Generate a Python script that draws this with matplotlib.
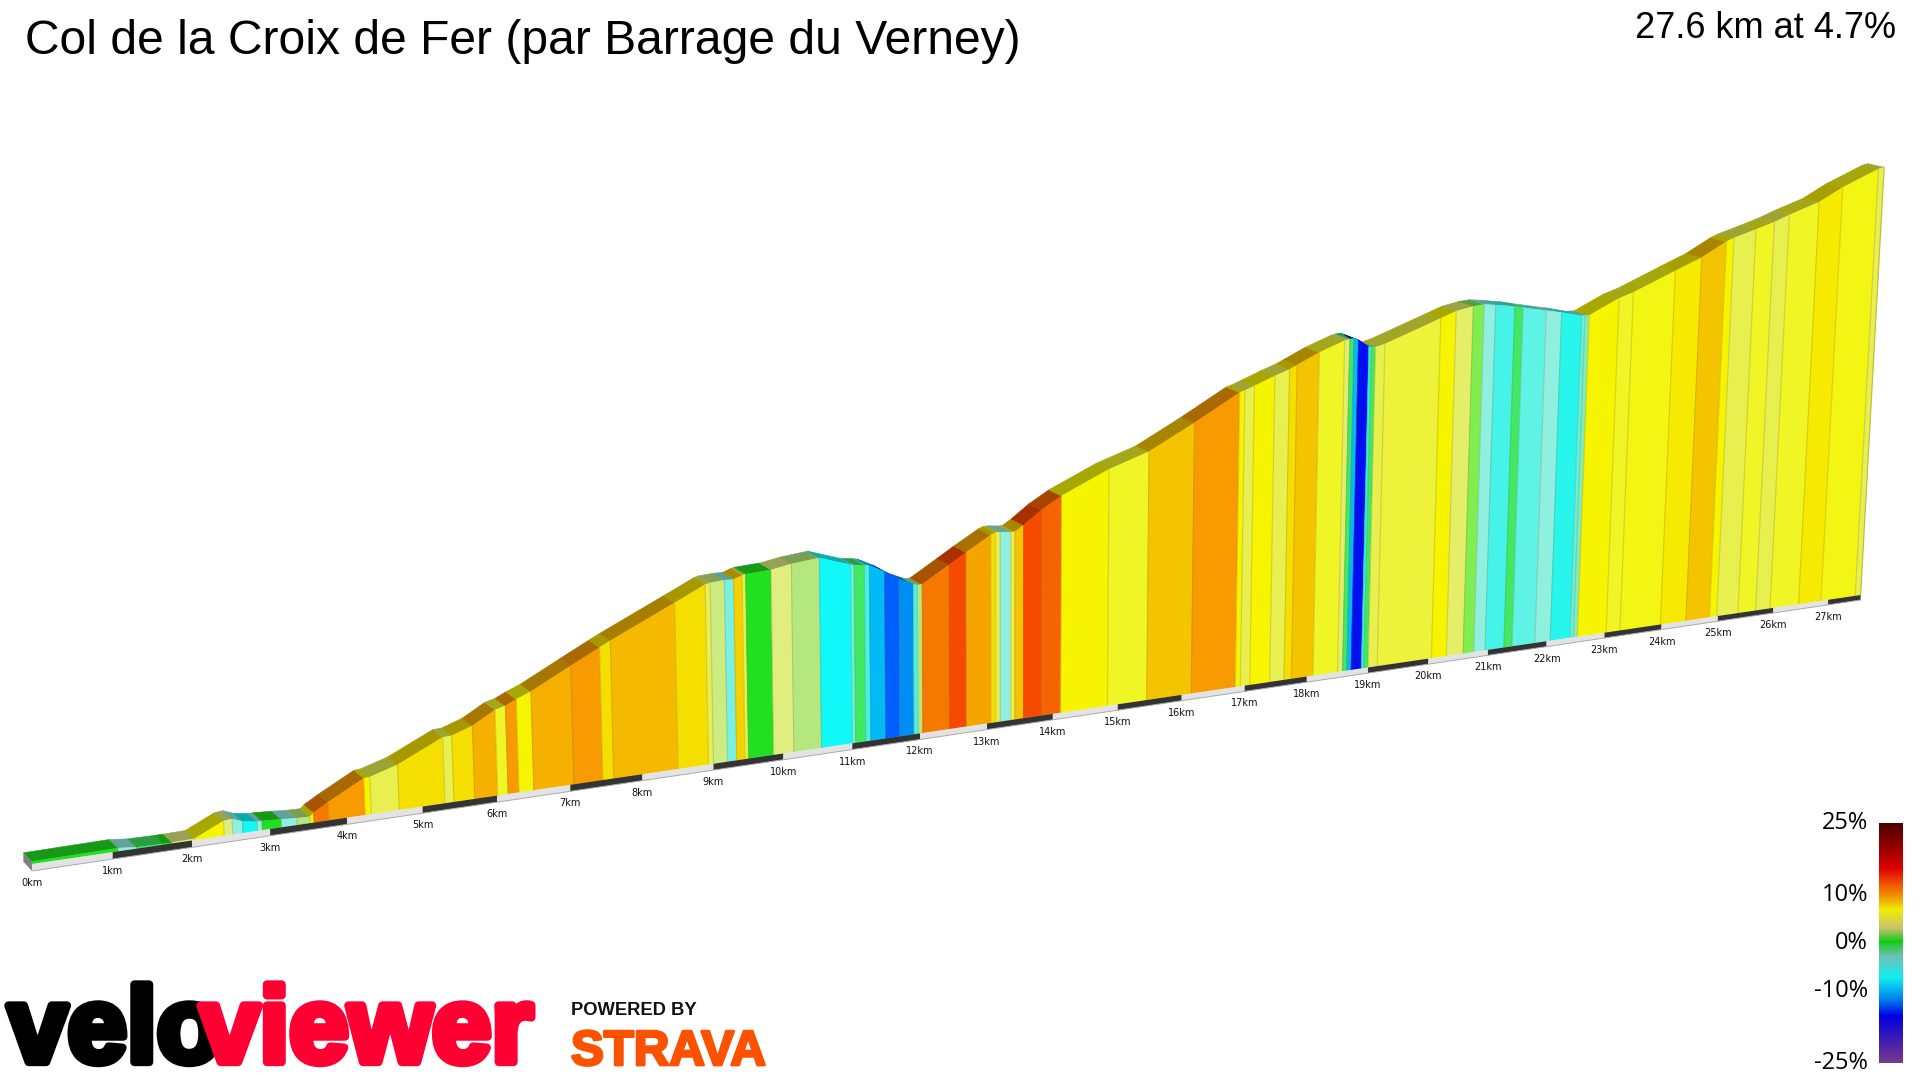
import numpy as np
import matplotlib
matplotlib.use("Agg")
import matplotlib.pyplot as plt
import matplotlib.patheffects as pe
from matplotlib.collections import PolyCollection
from matplotlib.colors import LinearSegmentedColormap, Normalize
from matplotlib.transforms import ScaledTranslation

TITLE = "Col de la Croix de Fer (par Barrage du Verney)"
SUMMARY = "27.6 km at 4.7%"
TOTAL_KM = 27.6

# Profile: distance at the end of each section (km), elevation gain there (m), gradient class (%)
START_ELEVATION = 6
section_end_km = [
    1.07, 1.30, 1.63, 1.75, 2.03, 2.41, 2.52, 2.65, 2.84, 2.90, 3.15, 3.35, 3.52, 3.57, 3.76,
    4.24, 4.32, 4.69, 5.30, 5.42, 5.70, 6.01, 6.15, 6.30, 6.50, 7.05, 7.45, 7.60, 8.50, 8.93,
    9.00, 9.20, 9.33, 9.45, 9.50, 9.86, 10.15, 10.55, 11.00, 11.05, 11.20, 11.27, 11.49, 11.70,
    11.91, 11.97, 12.04, 12.44, 12.69, 13.06, 13.13, 13.20, 13.36, 13.42, 13.55, 13.82, 14.12,
    14.84, 15.45, 16.15, 16.85, 16.93, 17.08, 17.40, 17.63, 17.75, 18.10, 18.50, 18.58, 18.65,
    18.72, 18.89, 18.93, 19.00, 19.15, 20.05, 20.30, 20.58, 20.76, 20.95, 21.27, 21.41, 21.80,
    22.06, 22.40, 22.46, 22.53, 23.03, 23.27, 23.98, 24.43, 24.85, 24.98, 25.36, 25.68, 25.94,
    26.46, 26.87, 27.50, 27.60,
]
section_elevation = [
    8, 3, 2, 2, 3, 37, 39, 29, 23, 23, 20, 17, 16, 25, 46,
    94, 95, 116, 170, 171, 189, 222, 229, 242, 257, 310, 348, 362, 440, 478,
    481, 483, 482, 490, 492, 495, 504, 511, 482, 480, 476, 473, 452, 426,
    408, 404, 404, 448, 476, 515, 520, 520, 516, 516, 531, 567, 599,
    657, 693, 759, 830, 834, 844, 866, 880, 890, 919, 945, 948, 949,
    943, 921, 919, 917, 923, 980, 996, 1005, 1007, 1002, 992, 986, 970,
    960, 944, 944, 943, 984, 997, 1048, 1080, 1120, 1129, 1148, 1165, 1182,
    1212, 1250, 1296, 1300,
]
section_gradient = [
    0, -4, -2, 0, 3, 6, 3, -4, -8, -4, 0, -4, 2, 6, 11,
    10, 6, 4, 7, 4, 7, 9, 5, 10, 6, 9, 10, 7, 8.5, 7,
    4, 2.5, -4.5, 7.5, 4, 0, 3, 2, -8, -5, -2, -6, -11, -13,
    -12, -6, 2, 11, 13, 9.5, 7, 4, -4, 4, 8, 13, 12,
    6, 5, 8, 10, 6, 4, 6, 4, 7, 8, 5, 3.5, -2,
    -11, -15, -7, -2, 4, 4.5, 6, 3.5, 1, -4, -6, -2, -5,
    -4, -7, -5, -3, 6, 5, 5.5, 6.5, 8, 6, 4, 5, 4,
    5, 6.5, 5.5, 4,
]

# Colour of the section faces by gradient
face_gradients = [-15, -13, -12, -11, -8, -7, -6, -5, -4, -3, -2, -1, 0, 1, 2, 3, 4, 5, 6, 7, 8, 9, 10, 11, 12, 13]
face_colours = ["#0010f0", "#0060ff", "#0090f5", "#00bbf5", "#10f8f8", "#28f5ec", "#45f3e8", "#60f3e5",
                "#90f0e0", "#80eebb", "#40e860", "#30e830", "#20e020", "#80ee50", "#b5e880", "#e0ee80",
                "#e8f050", "#f0f525", "#f7f500", "#f5e000", "#f5c400", "#f5b000", "#f79c00", "#f57a00",
                "#f56400", "#f54a00"]

# Legend scale
legend_values = [25, 15.6, 12.5, 10, 7, 3.1, 0.35, -2.8, -7.3, -11.8, -15.3, -25]
legend_colours = ["#4a0000", "#dd0000", "#f05000", "#f09000", "#eeee00", "#c8c070", "#10cc10",
                  "#70c0b8", "#10f0f0", "#0080f0", "#0000e0", "#7a3a8a"]
legend_ticks = [25, 10, 0, -10, -25]
legend_labels = ["25%", "10%", "0%", "-10%", "-25%"]

km_marks = list(range(0, 28))


def ramp(values, colours):
    vmin, vmax = min(values), max(values)
    pairs = sorted(zip(values, colours))
    return LinearSegmentedColormap.from_list(
        "ramp", [((v - vmin) / (vmax - vmin), c) for v, c in pairs], N=512
    ), Normalize(vmin, vmax)


# Oblique perspective used by the 3D profile, in figure pixels
def base_x(km):
    return 32 + 81.34 * np.asarray(km, float) / (1 + 0.00825 * np.asarray(km, float))


def base_y(km):
    return 864 - 0.1471 * (base_x(km) - 32)


def lift(elevation, km):
    return np.asarray(elevation, float) * 0.404 / (1 + 0.00825 * np.asarray(km, float))


def front(km, elevation):
    h = lift(elevation, km)
    bx = base_x(km)
    return bx + 6.4e-5 * (bx - 1000) * h, base_y(km) - h


def rear(km, elevation):
    x, y = front(km, elevation)
    km = np.asarray(km, float)
    return x - (8.5 + 0.3 * km), y - (8.8 - 0.19 * km)


fig = plt.figure(figsize=(19.2, 10.8), dpi=100, facecolor="white")
ax = fig.add_axes([0, 0, 1, 1])
ax.set_xlim(0, 1920)
ax.set_ylim(1080, 0)
ax.axis("off")

starts_km = np.array([0.0] + section_end_km[:-1])
ends_km = np.array(section_end_km)
starts_el = np.array([START_ELEVATION] + section_elevation[:-1], float)
ends_el = np.array(section_elevation, float)

cmap, norm = ramp(face_gradients, face_colours)
colours = np.array([cmap(norm(g))[:3] for g in section_gradient])

fx0, fy0 = front(starts_km, starts_el)
fx1, fy1 = front(ends_km, ends_el)
rx0, ry0 = rear(starts_km, starts_el)
rx1, ry1 = rear(ends_km, ends_el)
bx0, by0 = base_x(starts_km), base_y(starts_km)
bx1, by1 = base_x(ends_km), base_y(ends_km)

# Road surface running along the top of the profile
road = [[(a, b), (c, d), (e, f), (g, h)] for a, b, c, d, e, f, g, h in
        zip(fx0, fy0, fx1, fy1, rx1, ry1, rx0, ry0)]
ax.add_collection(PolyCollection(road, facecolors=colours * 0.68, edgecolors=colours * 0.68,
                                 linewidths=0.4, zorder=2))

# Front walls
walls = [[(a, b), (c, d), (e, f), (g, h)] for a, b, c, d, e, f, g, h in
         zip(bx0, by0, bx1, by1, fx1, fy1, fx0, fy0)]
ax.add_collection(PolyCollection(walls, facecolors=colours, edgecolors=colours,
                                 linewidths=0.4, zorder=3))
for a, b, c, d in zip(bx1[:-1], by1[:-1], fx1[:-1], fy1[:-1]):
    ax.plot([a, c], [b, d], color="#806020", alpha=0.22, lw=0.9, zorder=4, solid_capstyle="butt")
ax.plot([bx1[-1], fx1[-1]], [by1[-1], fy1[-1]], color="#a0a020", alpha=0.6, lw=0.9, zorder=4)

# Kilometre strip along the foot of the profile
strip_edges = np.array(km_marks + [TOTAL_KM], float)
thickness = 7 - 2 * strip_edges / TOTAL_KM
strip = [[(base_x(a), base_y(a)), (base_x(b), base_y(b)),
          (base_x(b), base_y(b) + tb), (base_x(a), base_y(a) + ta)]
         for a, b, ta, tb in zip(strip_edges[:-1], strip_edges[1:], thickness[:-1], thickness[1:])]
strip_colours = ["#333333" if k % 2 else "#e3e3e3" for k in km_marks]
ax.add_collection(PolyCollection(strip, facecolors=strip_colours, edgecolors="none", zorder=3))
ax.plot(base_x(strip_edges), base_y(strip_edges) + thickness, color="#aaaaaa", lw=0.7, zorder=3)

# Closed left end of the block
sx, sy = front(0.0, START_ELEVATION)
rx, ry = rear(0.0, START_ELEVATION)
ax.fill([sx, rx, rx, base_x(0.0)], [sy, ry, ry + 9, base_y(0.0) + 7], color="#808080", lw=0, zorder=2)
ax.fill([base_x(0.0), sx, rx], [base_y(0.0), sy, ry + 1], color="#808080", lw=0, zorder=2)

for k in km_marks:
    ax.text(base_x(k), base_y(k) + 19 - 2 * k / 27, f"{k}km", fontsize=7.0, ha="center", va="center",
            family="DejaVu Sans", color="#111111", zorder=5)

# Heading
ax.text(25, 41, TITLE, fontsize=34.6, family="Liberation Sans", ha="left", va="center", color="black")
ax.text(1896, 29, SUMMARY, fontsize=26, family="Liberation Sans", ha="right", va="center", color="black")

# Gradient legend
legend_ax = fig.add_axes([1879 / 1920, 1 - 1063 / 1080, 24 / 1920, 240 / 1080])
legend_cmap, legend_norm = ramp(legend_values, legend_colours)
legend_ax.imshow(np.linspace(25, -25, 256)[:, None], cmap=legend_cmap, norm=legend_norm,
                 aspect="auto", extent=(0, 1, -25, 25), interpolation="bilinear")
legend_ax.set_xticks([])
legend_ax.set_yticks(legend_ticks, legend_labels, family="Open Sans", fontsize=17)
legend_ax.tick_params(axis="y", length=0, pad=8)
shift_up = ScaledTranslation(0, 2 / 72, fig.dpi_scale_trans)
for label in legend_ax.get_yticklabels():
    label.set_transform(label.get_transform() + shift_up)
for spine in legend_ax.spines.values():
    spine.set_visible(False)

# Brand marks
ax.text(8, 1062, "velo", fontsize=77, family="Liberation Sans", weight="bold", ha="left", va="baseline",
        color="black", path_effects=[pe.withStroke(linewidth=6, foreground="black")], zorder=6)
ax.text(200, 1062, "viewer", fontsize=77, family="Liberation Sans", weight="bold", ha="left", va="baseline",
        color="#ff0033", path_effects=[pe.withStroke(linewidth=6, foreground="#ff0033")], zorder=7)
ax.text(571, 1015, "POWERED BY", fontsize=13.2, family="Liberation Sans", weight="bold", ha="left",
        va="baseline", color="#111111")
ax.text(571, 1065, "STRAVA", fontsize=35.4, family="Liberation Sans", weight="bold", ha="left", va="baseline",
        color="#fc5200", path_effects=[pe.withStroke(linewidth=2, foreground="#fc5200")])

fig.savefig("out.png", dpi=100, facecolor="white")
